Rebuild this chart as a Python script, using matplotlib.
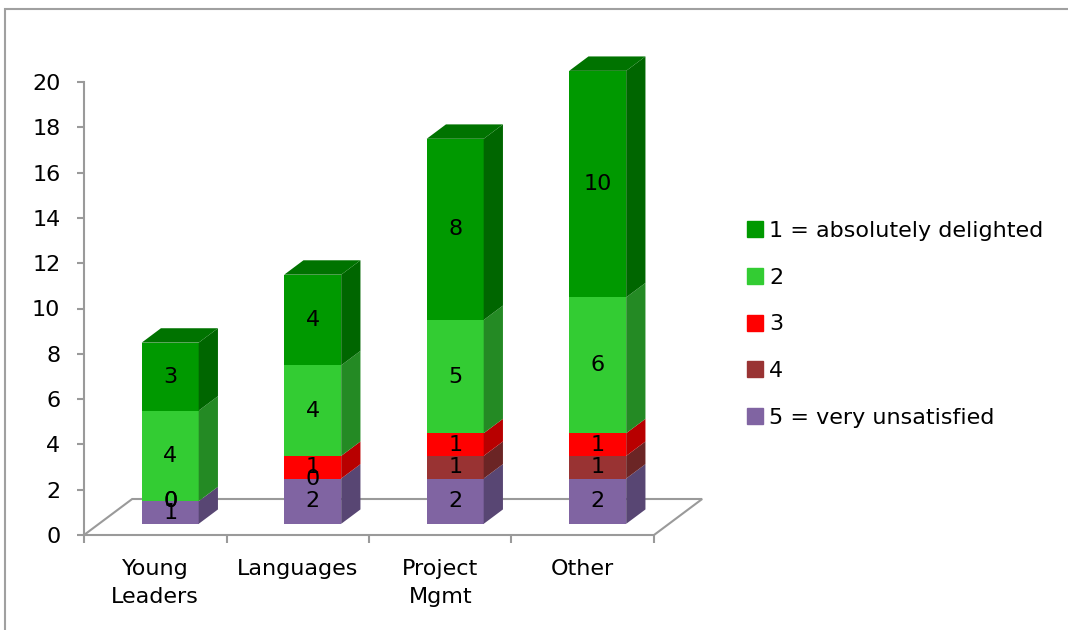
import matplotlib
matplotlib.use('Agg')
import matplotlib.pyplot as plt
from matplotlib.patches import Polygon, Rectangle
from matplotlib.lines import Line2D

categories = ['Young\nLeaders', 'Languages', 'Project\nMgmt', 'Other']
series_names = ['1 = absolutely delighted', '2', '3', '4', '5 = very unsatisfied']
s1 = [3, 4, 8, 10]
s2 = [4, 4, 5, 6]
s3 = [0, 1, 1, 1]
s4 = [0, 0, 1, 1]
s5 = [1, 2, 2, 2]
yticks = list(range(0, 21, 2))

front_colors = ['#009900', '#33CC33', '#FF0000', '#993333', '#8064A2']
side_colors = ['#006600', '#248A24', '#B80000', '#6B2525', '#584673']
top_color = '#007300'
gray = '#9a9a9a'
FS = 16

W, H = 1068, 630
fig = plt.figure(figsize=(W/100, H/100), dpi=100)
ax = fig.add_axes([84/W, 1-535/H, 570/W, 453/H])
ax.set_xlim(-0.5, 3.5)
ax.set_ylim(0, 20)

# depth geometry (in data units)
DX = 48/142
DY = 36/(453/20)
f1, f2 = 0.31, 0.71
bw = 0.40

# floor
floor = Polygon([(-0.5, 0), (3.5, 0), (3.5+DX, DY), (-0.5+DX, DY)], closed=True,
                facecolor='white', edgecolor=gray, lw=1.5, clip_on=False, zorder=1)
ax.add_patch(floor)

stack = [s5, s4, s3, s2, s1]
fronts = front_colors[::-1]
sides = side_colors[::-1]
ddx = (f2-f1)*DX
ddy = (f2-f1)*DY
for i in range(len(categories)):
    x0 = i - bw/2 + f1*DX
    base = f1*DY
    cum = 0
    for k, vals in enumerate(stack):
        v = vals[i]
        yb = base + cum
        yt = yb + v
        if v > 0:
            ax.add_patch(Rectangle((x0, yb), bw, v, facecolor=fronts[k], edgecolor='none',
                                   clip_on=False, zorder=3))
            ax.add_patch(Polygon([(x0+bw, yb), (x0+bw+ddx, yb+ddy), (x0+bw+ddx, yt+ddy), (x0+bw, yt)],
                                 closed=True, facecolor=sides[k], edgecolor='none',
                                 clip_on=False, zorder=3))
        cum += v
    # top face
    yt = base + cum
    ax.add_patch(Polygon([(x0, yt), (x0+bw, yt), (x0+bw+ddx, yt+ddy), (x0+ddx, yt+ddy)],
                         closed=True, facecolor=top_color, edgecolor='none',
                         clip_on=False, zorder=3))
    # labels
    cum = 0
    for k, vals in enumerate(stack):
        v = vals[i]
        ax.text(x0 + bw/2, base + cum + v/2, str(v), ha='center', va='center',
                fontsize=FS, color='black', zorder=5, clip_on=False)
        cum += v

for s in ['top', 'right', 'bottom']:
    ax.spines[s].set_visible(False)
ax.spines['left'].set_color(gray)
ax.spines['left'].set_linewidth(1.5)
ax.set_yticks(yticks)
ax.tick_params(axis='y', colors=gray, labelcolor='black', labelsize=FS, length=5,
               width=1.5, pad=12)
ax.set_xticks(range(len(categories)))
ax.set_xticklabels(categories, fontsize=FS, linespacing=1.55)
ax.set_xticks([-0.5, 0.5, 1.5, 2.5, 3.5], minor=True)
ax.tick_params(axis='x', which='major', length=0, pad=17)
ax.tick_params(axis='x', which='minor', length=6, width=1.5, color=gray)
ax.patch.set_visible(False)

handles = [Line2D([], [], marker='s', ls='none', color=c, markersize=11) for c in front_colors]
fig.legend(handles, series_names, loc='upper left', bbox_to_anchor=(748/W, 1-221/H),
           frameon=False, fontsize=FS, handlelength=0.65, handletextpad=0.3,
           labelspacing=1.2, borderpad=0, borderaxespad=0)

fig.patches.append(Rectangle((5/W, -0.1), 1.2, (1-9/H)+0.1, transform=fig.transFigure,
                             fill=False, edgecolor='#a0a0a0', lw=1.5))

fig.savefig('out.png', dpi=100)
